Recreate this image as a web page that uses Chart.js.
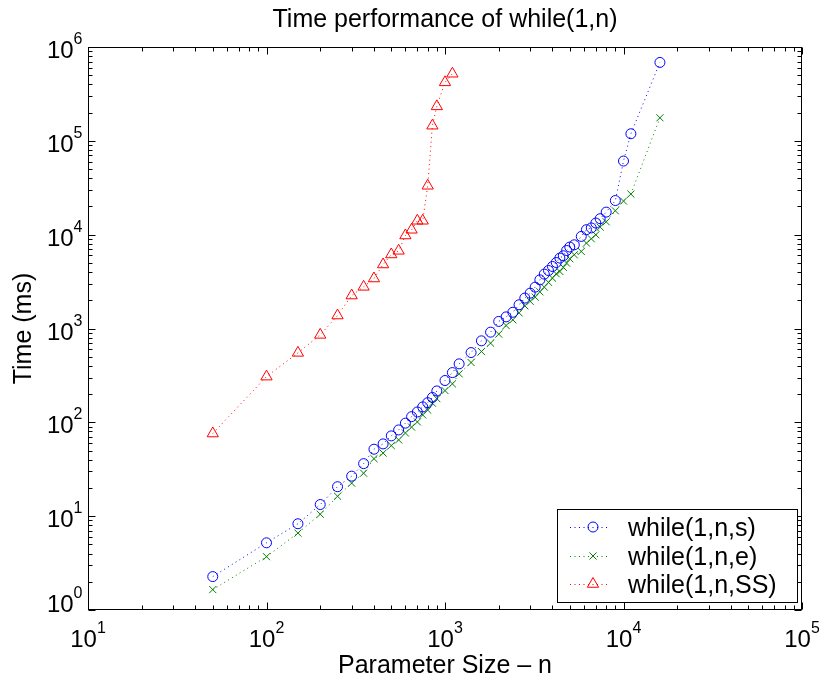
<!DOCTYPE html>
<html>
<head>
<meta charset="utf-8">
<script src="https://cdn.jsdelivr.net/npm/chart.js@4"></script>
<style>
  body { margin: 0; background: #fff; }
  #wrap { width: 819px; height: 680px; position: relative; }
</style>
</head>
<body>
<div id="wrap"><canvas id="chart"></canvas></div>
<script>
// Parameter sizes (x) and timings (y, ms)
const sizesSE = [50, 100, 150, 200, 250, 300, 350, 400, 450, 500, 550, 600, 650, 700, 750, 800, 850, 900,
  1000, 1100, 1200, 1400, 1600, 1800, 2000, 2200, 2400, 2600, 2800, 3000, 3200, 3400, 3600, 3800, 4000,
  4200, 4400, 4600, 4800, 5000, 5300, 5800, 6200, 6600, 7000, 7400, 8000, 9000, 10000, 11000, 16000];
const timeS = [2.27, 5.2, 8.3, 13.3, 20.6, 26.7, 36.3, 51.7, 58.9, 71.7, 83, 98, 115, 129, 146, 162, 184, 216,
  279, 339, 420, 554, 739, 914, 1190, 1330, 1490, 1790, 2110, 2380, 2760, 3300, 3800, 4150, 4580,
  5050, 5630, 5960, 6780, 7380, 7800, 9580, 11300, 11800, 13300, 14800, 17400, 23100, 60900, 119000, 685000];
const timeE = [1.65, 3.7, 6.6, 10.5, 16.3, 22.5, 28.7, 41, 47, 56.5, 65, 77, 89, 101, 120, 135, 160, 179,
  218, 257, 329, 434, 568, 698, 871, 1076, 1237, 1469, 1745, 1950, 2160, 2460, 2760, 3105, 3443,
  3828, 4050, 4487, 4978, 5532, 6104, 6623, 8130, 9040, 9970, 12050, 13720, 17970, 22810, 27100, 176000];
const sizesSS = [50, 100, 150, 200, 250, 300, 350, 400, 450, 500, 550, 600, 650, 700, 750, 800, 850, 900, 1000, 1100];
const timeSS = [76, 307, 550, 855, 1375, 2245, 2780, 3410, 4810, 6150, 6730, 9800, 11270, 14060, 14060,
  33200, 145000, 233000, 420000, 519000];

const seriesNames = ['while(1,n,s)', 'while(1,n,e)', 'while(1,n,SS)'];
const xDecades = [1, 2, 3, 4, 5];       // 10^1 .. 10^5
const yDecades = [0, 1, 2, 3, 4, 5, 6]; // 10^0 .. 10^6

const FONT = '"Liberation Sans", Arial, Helvetica, sans-serif';

function toPoints(xs, ys) {
  return xs.map(function(x, i) { return { x: x, y: ys[i] }; });
}

function makeSet(label, pts, color, style, radius) {
  return {
    label: label,
    data: pts,
    showLine: true,
    borderColor: color,
    borderWidth: 1,
    borderDash: [1, 3.5],
    backgroundColor: 'transparent',
    pointStyle: style,
    pointRadius: radius,
    pointHoverRadius: radius,
    pointBorderColor: color,
    pointBackgroundColor: 'transparent',
    pointBorderWidth: 1
  };
}

// draws "10" with a raised exponent
function drawPow(ctx, exp, x, baseline, align) {
  ctx.font = '24px ' + FONT;
  const wBase = ctx.measureText('10').width;
  ctx.font = '16px ' + FONT;
  const wExp = ctx.measureText(String(exp)).width;
  let left;
  if (align === 'right') left = x - wBase - wExp;
  else left = x - (wBase + wExp) / 2;
  ctx.textAlign = 'left';
  ctx.textBaseline = 'alphabetic';
  ctx.font = '24px ' + FONT;
  ctx.fillText('10', left, baseline);
  ctx.font = '16px ' + FONT;
  ctx.fillText(String(exp), left + wBase, baseline - 14);
}

const matlabAxes = {
  id: 'matlabAxes',
  afterDraw: function(chart) {
    const ctx = chart.ctx;
    const a = chart.chartArea;
    const xs = chart.scales.x;
    const ys = chart.scales.y;
    const L = Math.round(a.left) + 0.5, R = Math.round(a.right) - 0.5;
    const T = Math.round(a.top) + 0.5, B = Math.round(a.bottom) - 0.5;

    ctx.save();
    ctx.strokeStyle = '#000';
    ctx.fillStyle = '#000';
    ctx.lineWidth = 1;
    ctx.strokeRect(L, T, R - L, B - T);

    // inward ticks on all four sides
    ctx.beginPath();
    xDecades.forEach(function(k) {
      for (let m = 1; m <= 9; m++) {
        if (k === 5 && m > 1) break;
        const px = Math.round(xs.getPixelForValue(m * Math.pow(10, k))) + 0.5;
        const len = m === 1 ? 7 : 4;
        ctx.moveTo(px, B); ctx.lineTo(px, B - len);
        ctx.moveTo(px, T); ctx.lineTo(px, T + len);
      }
    });
    yDecades.forEach(function(k) {
      for (let m = 1; m <= 9; m++) {
        if (k === 6 && m > 1) break;
        const py = Math.round(ys.getPixelForValue(m * Math.pow(10, k))) + 0.5;
        const len = m === 1 ? 7 : 4;
        ctx.moveTo(L, py); ctx.lineTo(L + len, py);
        ctx.moveTo(R, py); ctx.lineTo(R - len, py);
      }
    });
    ctx.stroke();

    // tick labels
    xDecades.forEach(function(k) {
      const px = xs.getPixelForValue(Math.pow(10, k));
      drawPow(ctx, k, px, B + 37, 'center');
    });
    yDecades.forEach(function(k) {
      const py = ys.getPixelForValue(Math.pow(10, k));
      const base = k === 0 ? py + 2 : py + 11;
      drawPow(ctx, k, L - 6, base, 'right');
    });

    // title and axis labels
    ctx.font = '25px ' + FONT;
    ctx.textAlign = 'center';
    ctx.textBaseline = 'alphabetic';
    ctx.fillText('Time performance of while(1,n)', (L + R) / 2, 27);
    ctx.fillText('Parameter Size \u2013 n', (L + R) / 2, 673);
    ctx.save();
    ctx.translate(31, (T + B) / 2);
    ctx.rotate(-Math.PI / 2);
    ctx.fillText('Time (ms)', 0, 0);
    ctx.restore();

    // legend
    const box = { x: 557.5, y: 509.5, w: 240, h: 93 };
    ctx.fillStyle = '#fff';
    ctx.fillRect(box.x, box.y, box.w, box.h);
    ctx.strokeStyle = '#000';
    ctx.strokeRect(box.x, box.y, box.w, box.h);
    const rows = [527, 556, 584];
    chart.data.datasets.forEach(function(ds, i) {
      const cy = rows[i];
      ctx.save();
      ctx.strokeStyle = ds.borderColor;
      ctx.setLineDash([1, 3.5]);
      ctx.beginPath();
      ctx.moveTo(570, cy + 0.5);
      ctx.lineTo(608, cy + 0.5);
      ctx.stroke();
      ctx.setLineDash([]);
      ctx.lineWidth = 1;
      ctx.fillStyle = 'rgba(0,0,0,0)';
      Chart.helpers.drawPoint(ctx, {
        pointStyle: ds.pointStyle,
        radius: ds.pointRadius,
        borderWidth: 1
      }, 593, cy);
      ctx.restore();
      ctx.fillStyle = '#000';
      ctx.font = '25px ' + FONT;
      ctx.textAlign = 'left';
      ctx.fillText(seriesNames[i], 628, cy + 9);
    });
    ctx.restore();
  }
};

const ctx = document.getElementById('chart').getContext('2d');
const chart = new Chart(ctx, {
  type: 'scatter',
  data: {
    datasets: [
      makeSet(seriesNames[0], toPoints(sizesSE, timeS), '#0000ff', 'circle', 5),
      makeSet(seriesNames[1], toPoints(sizesSE, timeE), '#008000', 'crossRot', 5),
      makeSet(seriesNames[2], toPoints(sizesSS, timeSS), '#ff0000', 'triangle', 6.5)
    ]
  },
  options: {
    responsive: true,
    maintainAspectRatio: false,
    animation: false,
    layout: { padding: { left: 88, right: 17, top: 47, bottom: 70 } },
    plugins: {
      legend: { display: false },
      tooltip: { enabled: false }
    },
    scales: {
      x: { type: 'logarithmic', min: 10, max: 100000, display: false },
      y: { type: 'logarithmic', min: 1, max: 1000000, display: false }
    }
  },
  plugins: [matlabAxes]
});
</script>
</body>
</html>
